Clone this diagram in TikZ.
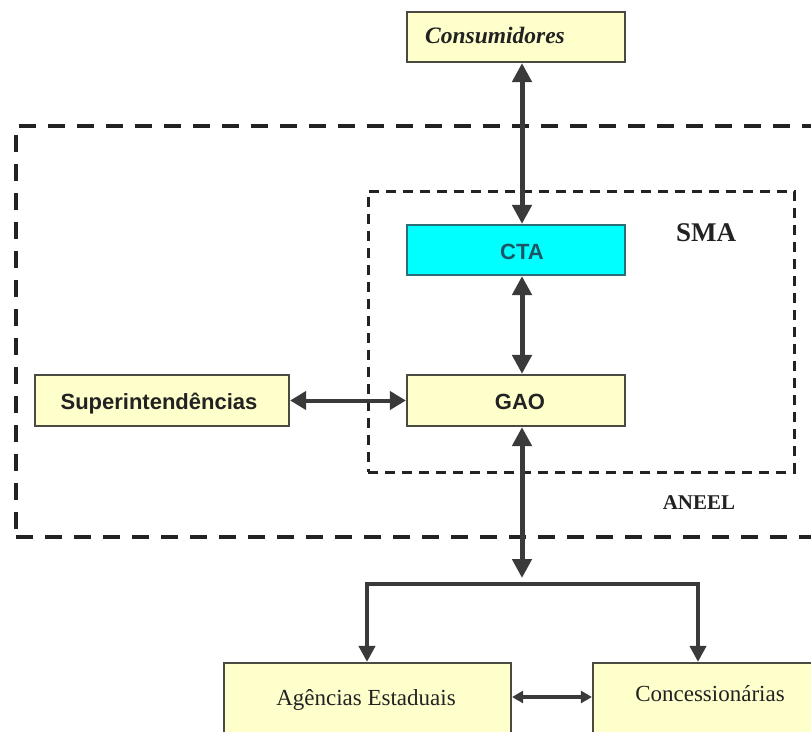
\documentclass[tikz,border=0pt]{standalone}
\usepackage{fontspec}
\setmainfont{Liberation Serif}
\setsansfont{Liberation Sans}
\usetikzlibrary{arrows.meta}
\usetikzlibrary{positioning}
\definecolor{anink}{HTML}{222222}
\definecolor{anline}{HTML}{3A3A3A}
\definecolor{anboxfill}{HTML}{FFFFCC}
\definecolor{anboxdraw}{HTML}{4A4A40}
\definecolor{anctafill}{HTML}{00FFFF}
\definecolor{anctadraw}{HTML}{2B6E78}
\definecolor{anctatext}{HTML}{1C5566}
\tikzset{
  anbox/.style={
    draw=anboxdraw, fill=anboxfill, line width=2.2pt, inner sep=0pt},
  anframe/.style={
    draw=anink, line width=4.5pt, dash pattern=on 17pt off 12pt,
    inner sep=0pt},
  ansubframe/.style={
    draw=anink, line width=3pt, dash pattern=on 10pt off 7pt,
    inner sep=0pt},
  anarrow/.style={
    {Triangle[length=19pt, width=19pt]}-{Triangle[length=19pt, width=19pt]},
    draw=anline, line width=5pt},
  anlink/.style={
    {Triangle[length=16pt, width=18pt]}-{Triangle[length=16pt, width=18pt]},
    draw=anline, line width=4pt},
  androp/.style={
    -{Triangle[length=16pt, width=16pt]}, draw=anline, line width=4.5pt},
  anpair/.style={
    {Triangle[length=11pt, width=12pt]}-{Triangle[length=11pt, width=12pt]},
    draw=anline, line width=3.5pt},
  ansans/.style={font=\sffamily\bfseries\fontsize{22}{26}\selectfont,
    text=anink},
  anserif/.style={font=\fontsize{23}{27}\selectfont, text=anink},
  anlabel/.style={font=\bfseries\fontsize{22}{26}\selectfont, text=anink},
}

\begin{document}
\begin{tikzpicture}[x=1pt, y=-1pt]
\useasboundingbox (0, 0) rectangle (811, 731);
\clip (0, 0) rectangle (811, 731);

% The two dashed frames.
\node[anframe, minimum width=834pt, minimum height=411pt]
  (aneel) at (433, 331.5) {};
\node[ansubframe, minimum width=426pt, minimum height=281pt]
  (sma) at (581, 331.5) {};
\node[anlabel, font=\bfseries\fontsize{27}{30}\selectfont]
  (sma-label) at (706, 233) {SMA};
\node[anlabel, font=\bfseries\fontsize{21}{25}\selectfont]
  (aneel-label) at (699, 503) {ANEEL};

% Boxes.
\node[anbox, minimum width=218pt, minimum height=50pt]
  (consumidores) at (516, 37) {};
\node[anlabel, font=\bfseries\itshape\fontsize{23.5}{27}\selectfont]
  (consumidores-text) at (495, 35) {Consumidores};
\node[anbox, draw=anctadraw, fill=anctafill, minimum width=218pt,
      minimum height=50pt] (cta) at (516, 250) {};
\node[ansans, text=anctatext] (cta-text) at (522, 252) {CTA};
\node[anbox, minimum width=218pt, minimum height=51pt]
  (gao) at (516, 400.5) {};
\node[ansans] (gao-text) at (520, 402) {GAO};
\node[anbox, minimum width=254pt, minimum height=51pt]
  (superint) at (162, 400.5) {};
\node[ansans] (superint-text) at (159, 404) {Superintendências};
\node[anbox, minimum width=287pt, minimum height=97pt]
  (agencias) at (367.5, 711.5) {};
\node[anserif] (agencias-text) at (366, 700) {Agências Estaduais};
\node[anbox, minimum width=237pt, minimum height=97pt]
  (concessionarias) at (711.5, 711.5) {};
\node[anserif] (concessionarias-text) at (710, 694)
  {Concessionárias};

% Connectors.
\coordinate (spine) at (522, 0);
\coordinate (hub) at (522, 578);
\coordinate (leftdrop) at (367, 584);
\coordinate (rightdrop) at (698, 584);
\draw[anarrow] (consumidores.south -| spine) -- (cta.north -| spine);
\draw[anarrow] (cta.south -| spine) -- (gao.north -| spine);
\draw[anarrow] (gao.south -| spine) -- (hub);
\draw[anlink] (superint.east) -- (gao.west);
\draw[draw=anline, line width=4.5pt] ([xshift=-2.25pt]leftdrop)
  -- ([xshift=2.25pt]rightdrop);
\draw[androp] (leftdrop) -- (leftdrop |- agencias.north);
\draw[androp] (rightdrop) -- (rightdrop |- concessionarias.north);
\draw[anpair] (agencias.east |- 0, 697) -- (concessionarias.west |- 0, 697);

\end{tikzpicture}
\end{document}
